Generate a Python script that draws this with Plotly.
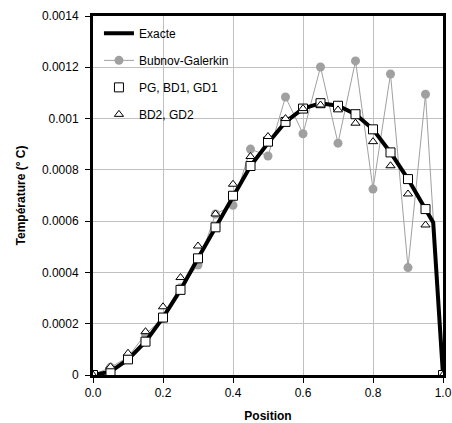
import plotly.graph_objects as go

# Data
x_nodes = [0.0, 0.05, 0.10, 0.15, 0.20, 0.25, 0.30, 0.35, 0.40, 0.45, 0.50,
           0.55, 0.60, 0.65, 0.70, 0.75, 0.80, 0.85, 0.90, 0.95, 1.0]

exact_x = [0.0, 0.05, 0.10, 0.15, 0.20, 0.25, 0.30, 0.35, 0.40, 0.45, 0.50,
           0.55, 0.60, 0.65, 0.70, 0.75, 0.80, 0.85, 0.90, 0.95, 0.972, 1.0]
exact_y = [0.0, 0.000013, 0.000061, 0.00013, 0.000224, 0.000332, 0.000455,
           0.000576, 0.000699, 0.000815, 0.000905, 0.000987, 0.001039,
           0.00106, 0.00105, 0.001017, 0.000958, 0.000868, 0.000764,
           0.000647, 0.000595, 0.0]

bubnov_y = [0.0, 0.00003, 0.00007, 0.00016, 0.00022, 0.00034, 0.000429,
            0.000628, 0.000662, 0.000881, 0.000854, 0.001084, 0.000941,
            0.001201, 0.000904, 0.001225, 0.000725, 0.001174, 0.000419,
            0.001095, 0.0]

pg_y = [0.0, 0.000013, 0.000061, 0.00013, 0.000224, 0.000332, 0.000455,
        0.000576, 0.000699, 0.000815, 0.000910, 0.000987, 0.001039,
        0.00106, 0.00105, 0.001017, 0.000958, 0.000868, 0.000764,
        0.000647, 0.0]

bd2_y = [0.0, 0.000032, 0.000085, 0.000169, 0.000266, 0.00038, 0.000503,
         0.000628, 0.000744, 0.000852, 0.00093, 0.001000, 0.001039,
         0.001053, 0.001034, 0.000982, 0.00091, 0.000816, 0.000706,
         0.000585, 0.0]

x_ticks = [0.0, 0.2, 0.4, 0.6, 0.8, 1.0]
x_tick_labels = ["0.0", "0.2", "0.4", "0.6", "0.8", "1.0"]
y_ticks = [0, 0.0002, 0.0004, 0.0006, 0.0008, 0.001, 0.0012, 0.0014]
y_tick_labels = ["0", "0.0002", "0.0004", "0.0006", "0.0008", "0.001", "0.0012", "0.0014"]

FONT = "Liberation Sans, Arial, sans-serif"
GRAY = "#a0a0a0"

fig = go.Figure()

fig.add_trace(go.Scatter(
    x=x_nodes, y=bubnov_y, mode="lines+markers", name="Bubnov-Galerkin",
    line=dict(color=GRAY, width=1),
    marker=dict(color=GRAY, size=9, symbol="circle"),
    legendrank=2, legendgroup="b",
))
fig.add_trace(go.Scatter(
    x=exact_x, y=exact_y, mode="lines", name="Exacte",
    line=dict(color="black", width=4),
    legendrank=1, legendgroup="a",
))
fig.add_trace(go.Scatter(
    x=x_nodes, y=pg_y, mode="markers", name="PG, BD1, GD1",
    marker=dict(symbol="square", size=9, color="white",
                line=dict(color="black", width=1)),
    legendrank=3, legendgroup="c",
))
fig.add_trace(go.Scatter(
    x=x_nodes, y=bd2_y, mode="markers", name="BD2, GD2",
    marker=dict(symbol="triangle-up", size=8, color="white",
                line=dict(color="black", width=1)),
    legendrank=4, legendgroup="d",
))

axis_common = dict(
    showline=True, linecolor="black", linewidth=3, mirror=True,
    showgrid=True, gridcolor="#c0c0c0", gridwidth=1,
    ticks="outside", ticklen=5, tickcolor="black", tickwidth=1,
    zeroline=False, automargin=False,
    tickfont=dict(family=FONT, size=12, color="black"),
    ticklabeloverflow="allow",
)

fig.update_xaxes(
    range=[0, 1.0], tickvals=x_ticks, ticktext=x_tick_labels,
    title=dict(text="<b>Position</b>", font=dict(family=FONT, size=12, color="black"),
               standoff=13),
    **axis_common,
)
fig.update_yaxes(
    range=[0, 0.0014], tickvals=y_ticks, ticktext=y_tick_labels,
    ticklabelstandoff=4,
    title=dict(text="<b>Température (° C)</b>", font=dict(family=FONT, size=12, color="black"),
               standoff=14),
    **axis_common,
)

# white box behind the legend (above grid, below traces and axis lines)
fig.add_shape(
    type="rect", xref="paper", yref="paper",
    x0=0, x1=0.494, y0=0.682, y1=0.986,
    fillcolor="white", line=dict(width=0), layer="between",
)

fig.update_layout(
    width=452, height=423,
    margin=dict(l=93, r=9, t=16, b=48, autoexpand=False),
    paper_bgcolor="white", plot_bgcolor="white",
    showlegend=True,
    legend=dict(
        x=0.017, y=0.992, xanchor="left", yanchor="top",
        bgcolor="rgba(0,0,0,0)", borderwidth=0,
        font=dict(family=FONT, size=12, color="black"),
        tracegroupgap=8,
        traceorder="grouped",
    ),
)

# remove the browser's default 8px body margin so the figure fills the window
fig.write_html("out.html", config={"displayModeBar": False},
               post_script="document.body.style.margin='0px';")
